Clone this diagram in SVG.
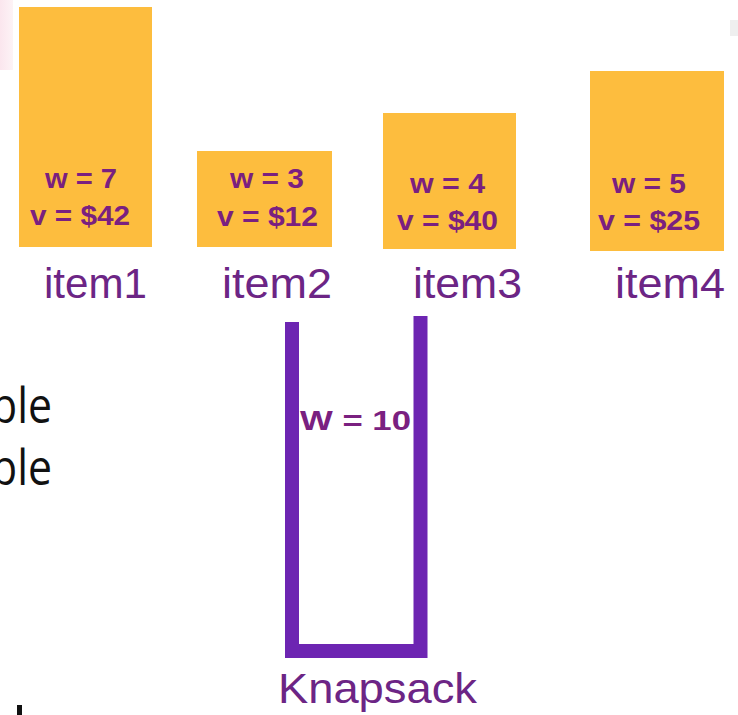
<svg xmlns="http://www.w3.org/2000/svg" width="738" height="715" viewBox="0 0 738 715">
  <style>
    .box { fill: #fdbd3e; }
    .attr { font-family: "Liberation Sans", Arial, sans-serif; font-weight: bold; font-size: 27px; fill: #7a2080; }
    .label { font-family: "Liberation Sans", Arial, sans-serif; font-size: 42px; fill: #6c2585; }
    .side { font-family: "Open Sans", "Noto Sans", sans-serif; font-size: 49px; fill: #111111; }
    .sack { fill: none; stroke: #6d25b2; stroke-width: 14; stroke-linejoin: miter; }
  </style>
  <defs>
    <linearGradient id="tint" x1="0" y1="0" x2="1" y2="0">
      <stop offset="0" stop-color="#fbe6ee"/>
      <stop offset="1" stop-color="#fdf3f6"/>
    </linearGradient>
  </defs>

  <rect width="738" height="715" fill="#ffffff"/>
  <!-- faint background tints -->
  <rect x="0" y="0" width="13" height="70" fill="url(#tint)"/>
  <rect x="730" y="20" width="8" height="16" fill="#efefef"/>

  <!-- side text, running off the left edge -->
  <g id="side-text">
    <text class="side" x="-9" y="423" textLength="61" lengthAdjust="spacingAndGlyphs">ble</text>
    <text class="side" x="-9" y="485" textLength="61" lengthAdjust="spacingAndGlyphs">ble</text>
    <rect x="17" y="705" width="5" height="10" fill="#111111"/>
  </g>

  <g id="item1">
    <rect class="box" x="19" y="7" width="133" height="240"/>
    <text class="attr" x="45" y="188" textLength="72" lengthAdjust="spacingAndGlyphs">w = 7</text>
    <text class="attr" x="30" y="225" textLength="100" lengthAdjust="spacingAndGlyphs">v = $42</text>
    <text class="label" x="44" y="298" textLength="103" lengthAdjust="spacingAndGlyphs">item1</text>
  </g>

  <g id="item2">
    <rect class="box" x="197" y="151" width="135" height="96"/>
    <text class="attr" x="230" y="188" textLength="74" lengthAdjust="spacingAndGlyphs">w = 3</text>
    <text class="attr" x="217" y="226" textLength="101" lengthAdjust="spacingAndGlyphs">v = $12</text>
    <text class="label" x="222" y="298" textLength="110" lengthAdjust="spacingAndGlyphs">item2</text>
  </g>

  <g id="item3">
    <rect class="box" x="383" y="113" width="133" height="136"/>
    <text class="attr" x="410" y="193" textLength="75" lengthAdjust="spacingAndGlyphs">w = 4</text>
    <text class="attr" x="397" y="230" textLength="101" lengthAdjust="spacingAndGlyphs">v = $40</text>
    <text class="label" x="413" y="298" textLength="109" lengthAdjust="spacingAndGlyphs">item3</text>
  </g>

  <g id="item4">
    <rect class="box" x="590" y="71" width="134" height="180"/>
    <text class="attr" x="612" y="193" textLength="74" lengthAdjust="spacingAndGlyphs">w = 5</text>
    <text class="attr" x="598" y="230" textLength="102" lengthAdjust="spacingAndGlyphs">v = $25</text>
    <text class="label" x="615" y="298" textLength="110" lengthAdjust="spacingAndGlyphs">item4</text>
  </g>

  <g id="knapsack">
    <path class="sack" d="M292,322 V651 H420.5 V316"/>
    <text class="attr" x="300" y="430" font-size="35" textLength="111" lengthAdjust="spacingAndGlyphs">W = 10</text>
    <text class="label" x="278" y="703" font-size="44" textLength="199" lengthAdjust="spacingAndGlyphs">Knapsack</text>
  </g>
</svg>
